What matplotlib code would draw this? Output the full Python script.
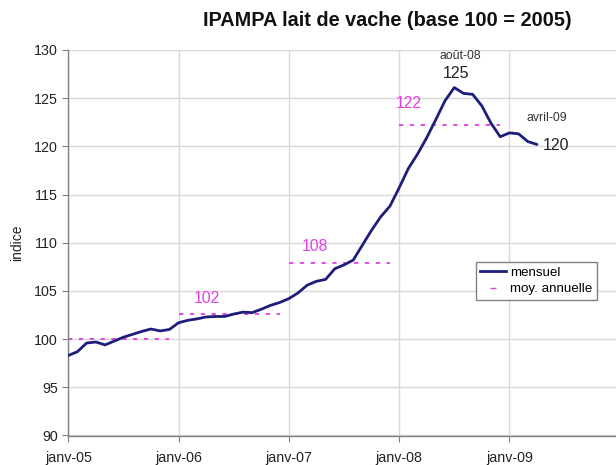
import numpy as np
import matplotlib
matplotlib.use("Agg")
import matplotlib.pyplot as plt
from matplotlib.lines import Line2D

plt.rcParams['font.family'] = ['Liberation Sans', 'DejaVu Sans']

# Monthly IPAMPA index, janv-05 .. avril-09
monthly = [98.3, 98.7, 99.6, 99.7, 99.4, 99.8, 100.2, 100.5, 100.8, 101.05, 100.85, 101.0,
           101.7, 101.95, 102.1, 102.3, 102.35, 102.35, 102.6, 102.8, 102.75, 103.1, 103.5, 103.8,
           104.2, 104.8, 105.6, 106.0, 106.2, 107.3, 107.7, 108.2, 109.75, 111.3, 112.7, 113.8,
           115.7, 117.7, 119.2, 120.9, 122.8, 124.75, 126.1, 125.5, 125.4, 124.2, 122.4, 121.0,
           121.4, 121.3, 120.5, 120.2]
years = [2005, 2006, 2007, 2008]
annual_mean = [100.0, 102.6, 107.9, 122.2]
annual_labels = ["", "102", "108", "122"]
annual_label_x = [None, 15.1, 26.8, 37.1]
annual_label_y = [None, 104.2, 109.6, 124.4]
tick_labels = ["janv-05", "janv-06", "janv-07", "janv-08", "janv-09"]

navy = "#1E1E7A"
pink = "#E040E0"

fig = plt.figure(figsize=(6.16, 4.65), dpi=100)
ax = fig.add_axes([68.3/616, 1-435.5/465, 551.4/616, 385.5/465])

x = np.arange(len(monthly))
ax.plot(x, monthly, color=navy, lw=2.0, label="mensuel", zorder=3,
        solid_joinstyle='round', solid_capstyle='round')

for i, (yr, m) in enumerate(zip(years, annual_mean)):
    xs = np.array([12*i, 12*i + 11])
    ax.plot(xs, [m, m], color=pink, lw=1.3, linestyle=(0, (2.4, 3.6)), zorder=2)
    if annual_labels[i]:
        ax.text(annual_label_x[i], annual_label_y[i], annual_labels[i], color=pink,
                fontsize=11.3, ha='center', va='center')

ax.text(42.7, 129.4, "août-08", fontsize=8.8, color="#333333", ha='center', va='center')
ax.text(42.2, 127.6, "125", fontsize=11.5, color="#222222", ha='center', va='center')
ax.text(52.1, 122.9, "avril-09", fontsize=8.8, color="#333333", ha='center', va='center')
ax.text(53.1, 120.05, "120", fontsize=11.5, color="#222222", ha='center', va='center')

ax.set_xlim(0, 60)
ax.set_ylim(90, 130)
ax.set_xticks([0, 12, 24, 36, 48])
ax.set_xticklabels(tick_labels)
ax.set_yticks(np.arange(90, 131, 5))
ax.grid(True, color="#D8D8D8", lw=1.0)
ax.set_axisbelow(True)
for s in ['top', 'right']:
    ax.spines[s].set_visible(False)
for s in ['left', 'bottom']:
    ax.spines[s].set_color("#808080")
    ax.spines[s].set_linewidth(1.0)
ax.tick_params(axis='both', colors="#808080", labelcolor="#222222", labelsize=10.3,
               length=4, direction='out')
ax.tick_params(axis='x', pad=7)
ax.set_ylabel("indice", fontsize=10, color="#222222", labelpad=7)

handles = [Line2D([], [], color=navy, lw=2.0),
           Line2D([], [], color=pink, lw=1.3, linestyle='none', marker='_', markersize=4)]
leg = ax.legend(handles, ["mensuel", "moy. annuelle"], loc='upper left',
                bbox_to_anchor=(0.739, 0.450), borderaxespad=0, fontsize=9.6,
                fancybox=False, framealpha=1, edgecolor="#808080",
                handlelength=1.9, handletextpad=0.3, borderpad=0.35, labelspacing=0.3)
leg.get_frame().set_linewidth(1.0)

fig.text(387/616, 1-21/465, "IPAMPA lait de vache (base 100 = 2005)", fontsize=14.3,
         fontweight='bold', ha='center', va='center', color="#111111")

fig.savefig("out.png", dpi=100)
